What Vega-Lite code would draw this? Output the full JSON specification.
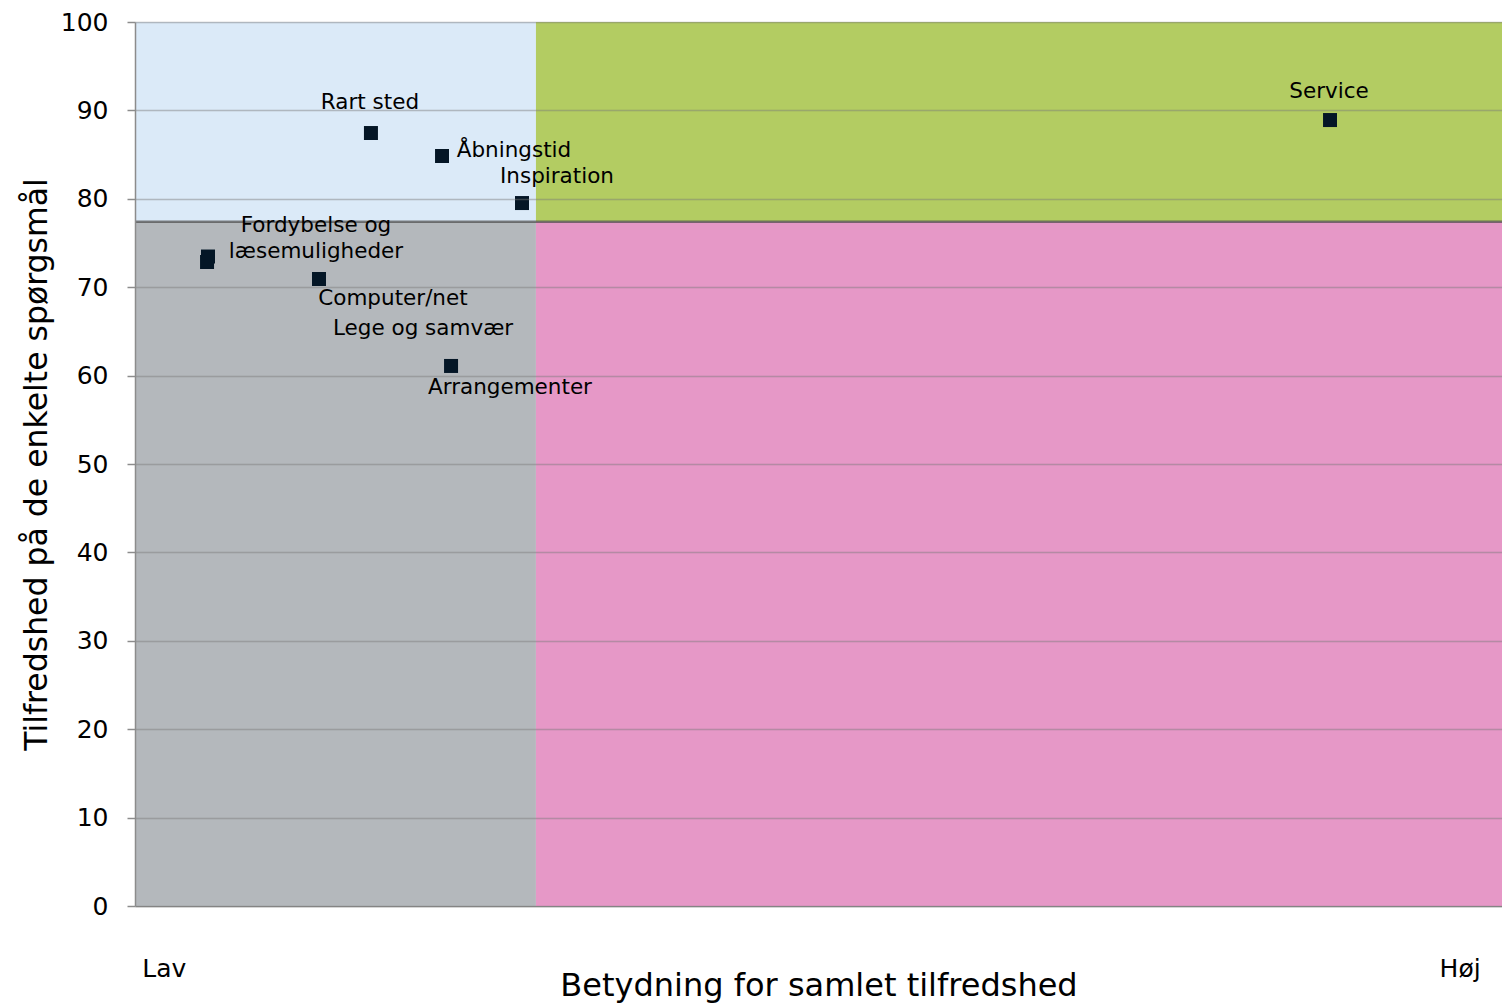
{
  "$schema": "https://vega.github.io/schema/vega-lite/v6.json",
  "width": 1367,
  "height": 884,
  "autosize": {"type": "none"},
  "padding": {"left": 135, "top": 22, "right": 0, "bottom": 98},
  "background": "white",
  "config": {"font": "DejaVu Sans", "view": {"stroke": null}},
  "datasets": {
    "quadrants": [
      {"quadrant": "Lav betydning, høj tilfredshed", "x1": 0, "x2": 29.33, "y1": 77.4, "y2": 100},
      {"quadrant": "Høj betydning, høj tilfredshed", "x1": 29.33, "x2": 100, "y1": 77.4, "y2": 100},
      {"quadrant": "Lav betydning, lav tilfredshed", "x1": 0, "x2": 29.33, "y1": 0, "y2": 77.4},
      {"quadrant": "Høj betydning, lav tilfredshed", "x1": 29.33, "x2": 100, "y1": 0, "y2": 77.4}
    ],
    "divider": [{"y": 77.4}],
    "points": [
      {"name": "Fordybelse og\nlæsemuligheder", "x": 5.34, "y": 73.47, "lx": 13.24, "ly": 76.95},
      {"name": "Lege og samvær", "x": 5.27, "y": 72.85, "lx": 21.07, "ly": 65.3},
      {"name": "Computer/net", "x": 13.46, "y": 70.93, "lx": 18.87, "ly": 68.7},
      {"name": "Rart sted", "x": 17.26, "y": 87.44, "lx": 17.19, "ly": 90.85},
      {"name": "Åbningstid", "x": 22.46, "y": 84.84, "lx": 27.72, "ly": 85.4},
      {"name": "Inspiration", "x": 28.31, "y": 79.52, "lx": 30.87, "ly": 82.5},
      {"name": "Arrangementer", "x": 23.12, "y": 61.09, "lx": 27.43, "ly": 58.65},
      {"name": "Service", "x": 87.42, "y": 88.91, "lx": 87.35, "ly": 92.1}
    ]
  },
  "layer": [
    {
      "data": {"name": "quadrants"},
      "mark": {"type": "rect"},
      "encoding": {
        "x": {
          "field": "x1", "type": "quantitative",
          "scale": {"domain": [0, 100], "nice": false, "zero": false},
          "axis": {
            "values": [0.5, 98.4],
            "labelExpr": "datum.value < 50 ? 'Lav' : 'Høj'",
            "labelAlign": {"condition": {"test": "datum.value < 50", "value": "left"}, "value": "right"},
            "ticks": false,
            "grid": false,
            "domain": true,
            "domainColor": "#8c8c8c",
            "domainWidth": 1.5,
            "labelFontSize": 25,
            "labelColor": "#000000",
            "labelPadding": 50,
            "labelFlush": false,
            "labelOverlap": false,
            "title": "Betydning for samlet tilfredshed",
            "titleFontSize": 32,
            "titleFontWeight": "normal",
            "titleColor": "#000000",
            "titlePadding": -11
          }
        },
        "x2": {"field": "x2"},
        "y": {
          "field": "y1", "type": "quantitative",
          "scale": {"domain": [0, 100], "nice": false},
          "axis": {
            "values": [0, 10, 20, 30, 40, 50, 60, 70, 80, 90, 100],
            "zindex": 1,
            "grid": true,
            "gridColor": "#7a7a7a",
            "gridOpacity": 0.45,
            "gridWidth": 1.5,
            "domainColor": "#8c8c8c",
            "domainWidth": 1.5,
            "tickColor": "#8c8c8c",
            "tickSize": 8,
            "tickWidth": 1.5,
            "labelFontSize": 25,
            "labelColor": "#000000",
            "labelPadding": 19,
            "title": "Tilfredshed på de enkelte spørgsmål",
            "titleFontSize": 31.5,
            "titleFontWeight": "normal",
            "titleColor": "#000000",
            "titlePadding": 7
          }
        },
        "y2": {"field": "y2"},
        "color": {
          "field": "quadrant", "type": "nominal",
          "scale": {
            "domain": ["Lav betydning, høj tilfredshed", "Høj betydning, høj tilfredshed", "Lav betydning, lav tilfredshed", "Høj betydning, lav tilfredshed"],
            "range": ["#dbeaf8", "#b3cc62", "#b4b8bc", "#e698c7"]
          },
          "legend": null
        }
      }
    },
    {
      "data": {"name": "divider"},
      "mark": {"type": "rule", "color": "#4a4a4a", "strokeWidth": 2.5, "opacity": 0.7},
      "encoding": {"y": {"field": "y", "type": "quantitative"}}
    },
    {
      "data": {"name": "points"},
      "mark": {"type": "point", "shape": "square", "filled": true, "size": 196, "opacity": 1, "color": "#041626"},
      "encoding": {
        "x": {"field": "x", "type": "quantitative"},
        "y": {"field": "y", "type": "quantitative"}
      }
    },
    {
      "data": {"name": "points"},
      "mark": {"type": "text", "fontSize": 21.5, "color": "#000000", "align": "center", "baseline": "middle", "lineBreak": "\n", "lineHeight": 26},
      "encoding": {
        "x": {"field": "lx", "type": "quantitative"},
        "y": {"field": "ly", "type": "quantitative"},
        "text": {"field": "name"}
      }
    }
  ]
}
